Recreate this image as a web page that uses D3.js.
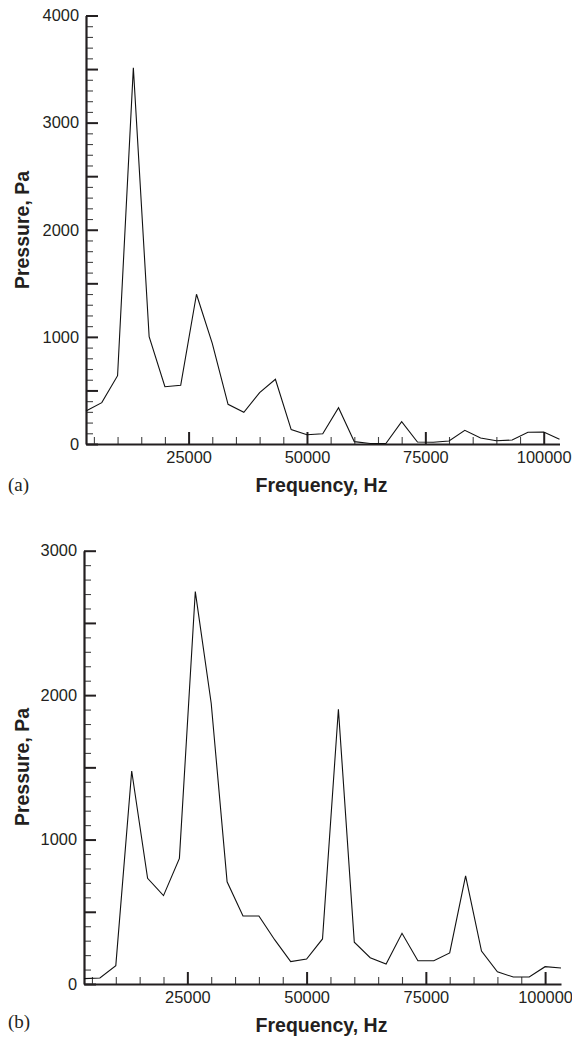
<!DOCTYPE html>
<html>
<head>
<meta charset="utf-8">
<script src="https://cdn.jsdelivr.net/npm/d3@7"></script>
<style>
  html, body { margin: 0; padding: 0; background: #fff; }
  svg { display: block; }
  .sans { font-family: "Liberation Sans", Arial, Helvetica, sans-serif; }
  .serif { font-family: "Liberation Serif", "Times New Roman", serif; }
</style>
</head>
<body>
<svg id="chart" width="572" height="1038"></svg>
<script>
// ---------------- DATA ----------------
const frequencyHz = [3333, 6667, 10000, 13333, 16667, 20000, 23333, 26667, 30000, 33333,
  36667, 40000, 43333, 46667, 50000, 53333, 56667, 60000, 63333, 66667,
  70000, 73333, 76667, 80000, 83333, 86667, 90000, 93333, 96667, 100000, 103333];

const pressureA = [308, 386, 638, 3512, 1002, 535, 548, 1398, 940, 370,
  296, 479, 604, 134, 87, 96, 339, 22, 5, 5,
  208, 19, 16, 28, 128, 56, 31, 37, 109, 112, 44];

const pressureB = [37, 42, 127, 1475, 732, 612, 870, 2717, 1944, 708,
  471, 471, 305, 155, 173, 312, 1902, 289, 182, 138,
  351, 161, 161, 215, 748, 228, 85, 48, 48, 120, 111];

const xTickLabels = [25000, 50000, 75000, 100000];
const xMinorTicks = [5000, 10000, 15000, 20000, 30000, 35000, 40000, 45000, 55000, 60000,
  65000, 70000, 80000, 85000, 90000, 95000];
const yTickLabelsA = [0, 1000, 2000, 3000, 4000];
const yTickLabelsB = [0, 1000, 2000, 3000];

const xTitle = "Frequency, Hz";
const yTitle = "Pressure, Pa";

// ---------------- LAYOUT ----------------
const svg = d3.select("#chart");
const ink = "#231f20";

const panels = [
  { tag: "(a)", values: pressureA, yMax: 4000, yLabels: yTickLabelsA,
    x0: 86, x1: 559.5, yBottom: 444, yTop: 15.5, titleY: 230, tagY: 491 },
  { tag: "(b)", values: pressureB, yMax: 3000, yLabels: yTickLabelsB,
    x0: 84, x1: 561, yBottom: 984, yTop: 550.7, titleY: 767, tagY: 1028 }
];

panels.forEach(p => {
  const x = d3.scaleLinear().domain([frequencyHz[0], frequencyHz[frequencyHz.length - 1]]).range([p.x0, p.x1]);
  const y = d3.scaleLinear().domain([0, p.yMax]).range([p.yBottom, p.yTop]);

  const g = svg.append("g");

  const yMinor = d3.range(0, p.yMax + 1, 100).filter(v => v % 500 !== 0);
  const yMajor = d3.range(0, p.yMax + 1, 500);

  const yMinorAxis = d3.axisLeft(y).tickValues(yMinor).tickSize(-7).tickFormat("").tickSizeOuter(0);
  const gyMinor = g.append("g").attr("transform", `translate(${p.x0},0)`).call(yMinorAxis);
  gyMinor.select(".domain").remove();
  gyMinor.selectAll("line").attr("stroke", "#444").attr("stroke-width", 1.1);

  const yMajorAxis = d3.axisLeft(y).tickValues(yMajor).tickSize(-12).tickPadding(7).tickSizeOuter(0)
    .tickFormat(v => p.yLabels.includes(v) ? String(v) : "");
  const gyMajor = g.append("g").attr("transform", `translate(${p.x0},0)`).call(yMajorAxis);
  gyMajor.attr("font-family", null).attr("font-size", null);
  gyMajor.select(".domain").attr("stroke", ink).attr("stroke-width", 2.2);
  gyMajor.selectAll("line").attr("stroke", ink).attr("stroke-width", 2);
  gyMajor.selectAll("text").attr("class", "sans")
    .style("font-size", "16.4px").attr("fill", ink);

  const xMinorAxis = d3.axisBottom(x).tickValues(xMinorTicks).tickSize(-7).tickFormat("").tickSizeOuter(0);
  const gxMinor = g.append("g").attr("transform", `translate(0,${p.yBottom})`).call(xMinorAxis);
  gxMinor.select(".domain").remove();
  gxMinor.selectAll("line").attr("stroke", "#444").attr("stroke-width", 1.1);

  const xMajorAxis = d3.axisBottom(x).tickValues(xTickLabels).tickSize(-12).tickPadding(7)
    .tickSizeOuter(0).tickFormat(d => String(d));
  const gxMajor = g.append("g").attr("transform", `translate(0,${p.yBottom})`).call(xMajorAxis);
  gxMajor.attr("font-family", null).attr("font-size", null);
  gxMajor.select(".domain").attr("stroke", ink).attr("stroke-width", 2.2);
  gxMajor.selectAll("line").attr("stroke", ink).attr("stroke-width", 2);
  gxMajor.selectAll("text").attr("class", "sans")
    .style("font-size", "16.4px").attr("fill", ink);

  const line = d3.line().x((d, i) => x(frequencyHz[i])).y(d => y(d));
  g.append("path").datum(p.values)
    .attr("d", line)
    .attr("fill", "none")
    .attr("stroke", "#111")
    .attr("stroke-width", 1.1)
    .attr("stroke-linejoin", "miter");

  g.append("text").attr("class", "sans")
    .attr("transform", `translate(29,${p.titleY}) rotate(-90)`)
    .attr("text-anchor", "middle")
    .style("font-weight", "bold").style("font-size", "19.5px").attr("fill", ink)
    .text(yTitle);

  g.append("text").attr("class", "sans")
    .attr("x", 321.5).attr("y", p.yBottom + 48)
    .attr("text-anchor", "middle")
    .style("font-weight", "bold").style("font-size", "19.5px").attr("fill", ink)
    .text(xTitle);

  g.append("text").attr("class", "serif")
    .attr("x", 8).attr("y", p.tagY)
    .style("font-size", "19px").attr("fill", ink)
    .text(p.tag);
});
</script>
</body>
</html>
